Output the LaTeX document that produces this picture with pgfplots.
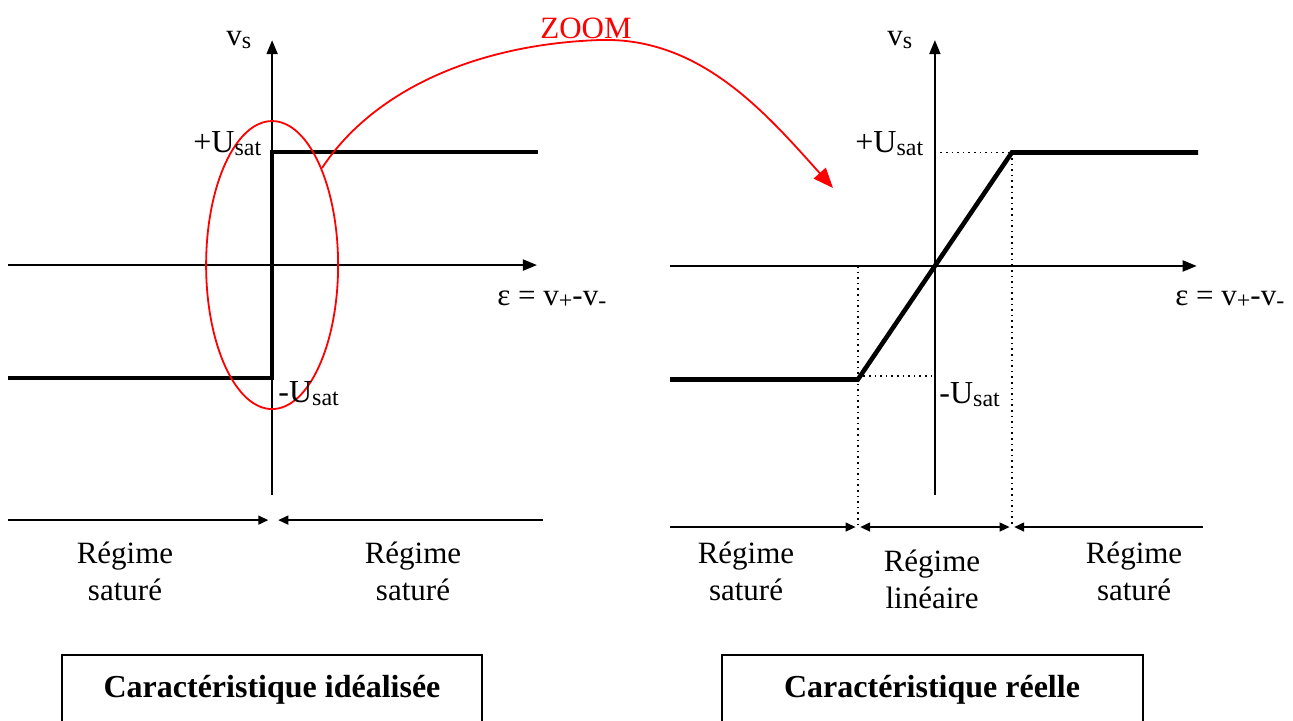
\documentclass[border=0pt]{standalone}
\usepackage{fontspec}
\setmainfont{Liberation Serif}
\usepackage{pgfplots}
\pgfplotsset{compat=1.18}
\usetikzlibrary{arrows.meta}

% subscript in the style of a word processor
\newcommand{\sub}[2][12]{\raisebox{-1.6pt}{\fontsize{#1}{#1}\selectfont #2}}

\pgfplotsset{
  transfer/.style={
    axis lines=middle,
    axis line style={line width=1pt,-{Triangle[length=7pt,width=5.5pt]}},
    xtick=\empty, ytick=\empty,
    enlargelimits=false, clip=false,
    anchor=south west,
  },
}
\tikzset{
  curve/.style={line width=2.3pt, black, line join=miter},
  region/.style={line width=0.75pt},
  rtip/.style={-{Triangle[length=5pt,width=4.5pt]}},
}

\begin{document}
\begin{tikzpicture}[font=\fontsize{15.5}{19}\selectfont]
\path[use as bounding box] (0,0) rectangle (646.5pt,-360pt);

% ---- idealised characteristic ----
\begin{axis}[transfer, at={(4pt,-247.5pt)},
  x=38.5pt, y=56.5pt,
  xmin=-3.43, xmax=3.44, ymin=-2.035, ymax=1.99]
  \addplot[curve] coordinates {(-3.43,-1) (0,-1) (0,1) (3.45,1)};
  % operating regions
  \draw[region,rtip] (axis cs:-3.43,-2.257) -- (axis cs:-0.05,-2.257);
  \draw[region,rtip] (axis cs:3.52,-2.257) -- (axis cs:0.08,-2.257);
  % zoomed area
  \draw[red, line width=0.9pt] (axis cs:0,0) ellipse [x radius=33pt, y radius=72pt];
\end{axis}

% ---- real characteristic ----
\begin{axis}[transfer, at={(335pt,-247.5pt)},
  x=38.5pt, y=56.75pt,
  xmin=-3.44, xmax=3.40, ymin=-2.018, ymax=1.99]
  \addplot[curve] coordinates {(-3.44,-1) (-1,-1) (1,1) (3.42,1)};
  % construction lines
  \draw[dotted, line width=0.8pt] (axis cs:-1,0) -- (axis cs:-1,-2.30);
  \draw[dotted, line width=0.8pt] (axis cs:1,1) -- (axis cs:1,-2.30);
  \draw[dotted, line width=0.8pt] (axis cs:0,1) -- (axis cs:1,1);
  \draw[dotted, line width=0.8pt] (axis cs:-1,-0.97) -- (axis cs:0,-0.97);
  % operating regions
  \draw[region,rtip] (axis cs:-3.44,-2.30) -- (axis cs:-1.03,-2.30);
  \draw[region,{Triangle[length=5pt,width=4.5pt]}-{Triangle[length=5pt,width=4.5pt]}]
    (axis cs:-0.97,-2.30) -- (axis cs:0.97,-2.30);
  \draw[region,rtip] (axis cs:3.48,-2.30) -- (axis cs:1.03,-2.30);
\end{axis}

\begin{scope}[x=0.5pt, y=-0.5pt, every node/.style={inner sep=0pt}]
  % zoom arrow
  \draw[red, line width=0.9pt, -{Triangle[length=10pt,width=8pt]}]
    (322,168) .. controls (375,88) and (480,44) .. (600,40)
              .. controls (700,37) and (765,112) .. (833,188);
  \node[red, anchor=base] at (586,38) {ZOOM};

  % axis labels, left
  \node[anchor=base west] at (226,45) {v\sub{s}};
  \node[anchor=base west] at (193,152) {\fontsize{16}{19}\selectfont +U\sub{sat}};
  \node[anchor=base west] at (278,402) {\fontsize{16}{19}\selectfont -U\sub{sat}};
  \node[anchor=base west] at (497,305) {ε = v\sub{+}-v\sub{-}};
  % axis labels, right
  \node[anchor=base west] at (887,45) {v\sub{s}};
  \node[anchor=base west] at (855,152) {\fontsize{16}{19}\selectfont +U\sub{sat}};
  \node[anchor=base west] at (939,403) {\fontsize{16}{19}\selectfont -U\sub{sat}};
  \node[anchor=base west] at (1175,305) {ε = v\sub{+}-v\sub{-}};

  % region names
  \node[anchor=base] at (125,563) {Régime};
  \node[anchor=base] at (125,600) {saturé};
  \node[anchor=base] at (413,563) {Régime};
  \node[anchor=base] at (413,600) {saturé};
  \node[anchor=base] at (746,563) {Régime};
  \node[anchor=base] at (746,600) {saturé};
  \node[anchor=base] at (932,571) {Régime};
  \node[anchor=base] at (932,608) {linéaire};
  \node[anchor=base] at (1134,563) {Régime};
  \node[anchor=base] at (1134,600) {saturé};

  % captions
  \draw[line width=0.8pt] (62,655) rectangle (482,740);
  \draw[line width=0.8pt] (722,655) rectangle (1143,740);
  \node[anchor=base] at (272,697) {\fontsize{16}{19}\selectfont\bfseries Caractéristique idéalisée};
  \node[anchor=base] at (932,697) {\fontsize{16}{19}\selectfont\bfseries Caractéristique réelle};
\end{scope}
\end{tikzpicture}
\end{document}
